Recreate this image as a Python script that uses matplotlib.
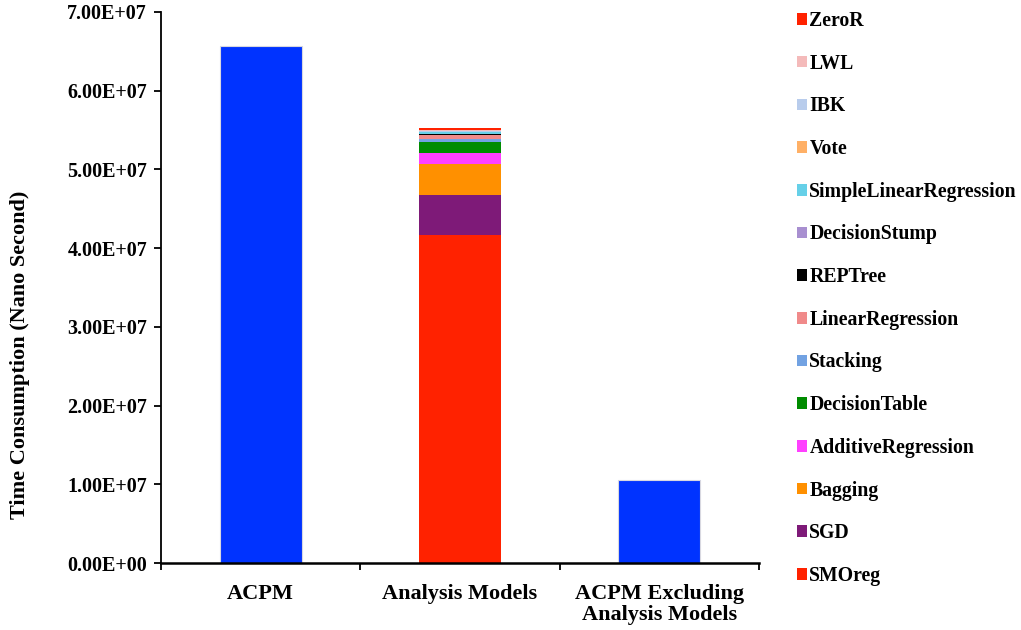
import matplotlib.pyplot as plt
from matplotlib.patches import Patch

plt.rcParams['font.family'] = ['Liberation Serif', 'DejaVu Serif']
plt.rcParams['font.weight'] = 'bold'

categories = ['ACPM', 'Analysis Models', 'ACPM Excluding\nAnalysis Models']
acpm_total = 6.57e7
acpm_excluding = 1.055e7

# per-model time, bottom of the stack first
models = ['SMOreg', 'SGD', 'Bagging', 'AdditiveRegression', 'DecisionTable',
          'Stacking', 'LinearRegression', 'REPTree', 'DecisionStump',
          'SimpleLinearRegression', 'Vote', 'IBK', 'LWL', 'ZeroR']
model_times = [4.17e7, 5.08e6, 3.94e6, 1.35e6, 1.36e6,
               4.5e5, 4.5e5, 1.3e5, 1.0e5,
               1.5e5, 1.0e5, 1.3e5, 1.3e5, 2.5e5]
model_colors = ['#ff2200', '#7e1a78', '#ff9000', '#ff40ff', '#008c00',
                '#72a2e2', '#f08a8a', '#000000', '#a88fd0',
                '#66d0e8', '#ffb066', '#b8ccec', '#f4baba', '#ff2200']

blue = '#0033ff'
width = 0.41

fig = plt.figure(figsize=(10.21, 6.3), dpi=100)
ax = fig.add_axes([0.1577, 0.1063, 0.7434 - 0.1577, 0.981 - 0.1063])

ax.bar(0, acpm_total, width, color=blue, edgecolor='#d8d8e0', linewidth=0.8)
ax.bar(2, acpm_excluding, width, color=blue, edgecolor='#d8d8e0', linewidth=0.8)

bottom = 0
for name, t, c in zip(models, model_times, model_colors):
    ax.bar(1, t, width, bottom=bottom, color=c, linewidth=0, label=name)
    bottom += t

ax.set_xlim(-0.5, 2.5)
ax.set_ylim(0, 7e7)
ax.set_yticks([i * 1e7 for i in range(8)])
ax.set_yticklabels(['{:.2E}'.format(i * 1e7) for i in range(8)], fontsize=14.5, fontweight='bold')
ax.set_xticks(range(3))
ax.set_xticklabels(categories, fontsize=16, fontweight='bold', linespacing=1.05)
ax.set_xticks([-0.5, 0.5, 1.5, 2.5], minor=True)
ax.tick_params(axis='x', which='major', length=0, pad=15)
ax.tick_params(axis='x', which='minor', length=5, width=1.3, direction='out')
ax.tick_params(axis='y', length=5, width=1.3, direction='out', pad=5)

ax.spines['top'].set_visible(False)
ax.spines['right'].set_visible(False)
ax.spines['left'].set_linewidth(1.3)
ax.spines['bottom'].set_linewidth(1.8)

ax.set_ylabel('Time Consumption (Nano Second)', fontsize=16, fontweight='bold')
ax.yaxis.set_label_coords(-0.219, 0.377)

handles = [Patch(facecolor=c, edgecolor='none') for c in model_colors][::-1]
fig.legend(handles, models[::-1], loc='upper left', bbox_to_anchor=(0.773, 0.995),
           frameon=False, fontsize=14.2, handlelength=0.52, handleheight=0.52,
           handletextpad=0.1, labelspacing=1.15, borderaxespad=0)

fig.savefig('out.png', dpi=100)
